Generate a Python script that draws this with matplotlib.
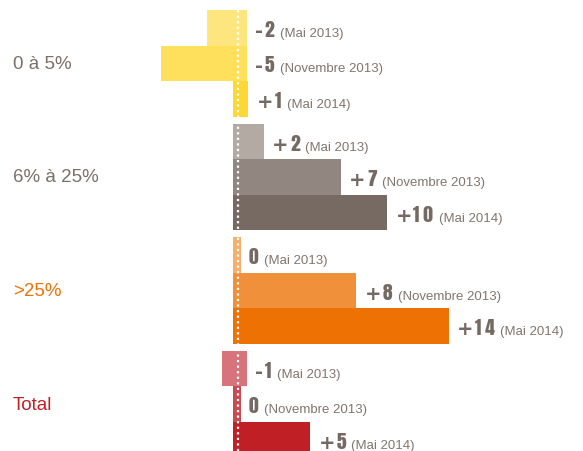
import matplotlib
matplotlib.use("Agg")
import matplotlib.pyplot as plt
from matplotlib import font_manager

# data
groups = ["0 à 5%", "6% à 25%", ">25%", "Total"]
periods = ["Mai 2013", "Novembre 2013", "Mai 2014"]
values_small = [-2, -5, 1]
values_mid = [2, 7, 10]
values_big = [0, 8, 14]
values_total = [-1, 0, 5]
values = [values_small, values_mid, values_big, values_total]

group_colors = [
    ["#fee67f", "#fee05c", "#fdd835"],
    ["#b3aaa3", "#918780", "#776a62"],
    ["#f6b06c", "#f0903a", "#ee7203"],
    ["#d7737a", "#c94a52", "#c01f26"],
]
label_colors = ["#7b706a", "#7b706a", "#ee7203", "#c01f26"]

names = {f.name for f in font_manager.fontManager.ttflist}
num_font = [f for f in ["Anton", "Bebas Neue", "League Gothic"] if f in names] + ["DejaVu Sans"]
txt_font = "Liberation Sans"
num_color = "#756a63"


def chain(ax, x, yb, parts):
    # parts: (text, gap in points, text kwargs); each one starts after the previous
    prev = None
    for s, gap, kw in parts:
        if prev is None:
            prev = ax.annotate(s, xy=(x, yb), xytext=(gap, 0), textcoords="offset points",
                               ha="left", va="baseline", **kw)
        else:
            prev = ax.annotate(s, xy=(1, yb), xycoords=(prev, "data"), xytext=(gap, 0),
                               textcoords="offset points", ha="left", va="baseline", **kw)


fig = plt.figure(figsize=(5.83, 4.52), dpi=100)
ax = fig.add_axes([0, 0, 1, 1])
px = 15.4  # pixels per unit
ax.set_xlim(-237.7 / px, (583 - 237.7) / px)
row_h = 35.5
ax.set_ylim((452 - 11) / row_h, -11 / row_h)
ax.axis("off")

pitch = 3.2
for g, (name, vals) in enumerate(zip(groups, values)):
    for r, v in enumerate(vals):
        y = g * pitch + r + 0.5
        if v > 0:
            left, right = -0.3, v - 0.3
        elif v == 0:
            left, right = -0.3, 0.2
        else:
            left, right = v, 0.6
        ax.barh(y, right - left, left=left, height=1.0,
                color=group_colors[g][r], linewidth=0)
        parts = []
        if v != 0:
            sign = "+" if v > 0 else "-"
            parts.append((sign, 6, dict(fontsize=14, fontweight="bold",
                                        family="DejaVu Sans", color=num_color)))
        digits = "\u2009".join(str(abs(v)))
        parts.append((digits, 1 if v != 0 else 6,
                      dict(fontsize=14, family=num_font, color=num_color)))
        parts.append(("(" + periods[r] + ")", 4,
                      dict(fontsize=9.5, family=txt_font, color="#80766f")))
        chain(ax, right, y + 0.23, parts)
    ax.text(0.022, g * pitch + 1.5, name, transform=ax.get_yaxis_transform(),
            ha="left", va="center", fontsize=13.5, family=txt_font,
            color=label_colors[g])

ax.plot([0, 0], [0, 3 * pitch + 3], linestyle=(0, (1, 1.5)),
        color="white", linewidth=1.6)

fig.savefig("out.png", dpi=100)
